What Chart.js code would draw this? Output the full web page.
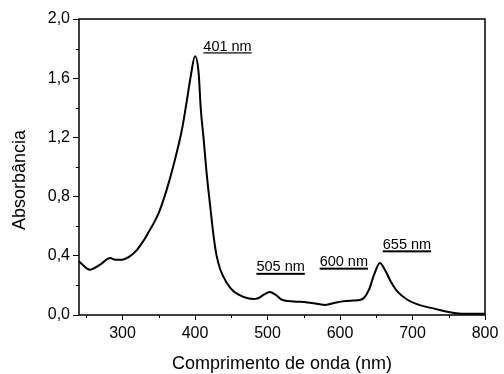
<!DOCTYPE html>
<html>
<head>
<meta charset="utf-8">
<script src="https://cdn.jsdelivr.net/npm/chart.js@4"></script>
<style>
  html, body { margin: 0; padding: 0; background: #fff; }
  #wrap { width: 504px; height: 374px; }
</style>
</head>
<body>
<div id="wrap"><canvas id="chart" width="504" height="374"></canvas></div>
<script>
// UV-Vis spectrum
const wavelength = [240, 255, 269, 283, 290, 299, 310, 320, 327, 334, 350, 361, 370, 382, 389, 394, 400,
    405, 408, 412, 416, 421, 426, 430, 435, 444, 453, 467, 481, 488, 495, 503, 511, 520, 536, 555, 568, 580,
    592, 603, 615, 624, 633, 640, 647, 655, 663, 670, 679, 693, 711, 730, 748, 767, 800];
const absorbance = [0.362, 0.306, 0.34, 0.385, 0.374, 0.374, 0.396, 0.44, 0.487, 0.543, 0.69, 0.847, 1.005,
    1.253, 1.456, 1.61, 1.748, 1.636, 1.39, 1.185, 0.96, 0.734, 0.52, 0.396, 0.306, 0.216, 0.16, 0.122, 0.108,
    0.115, 0.137, 0.155, 0.137, 0.103, 0.092, 0.085, 0.076, 0.068, 0.081, 0.092, 0.097, 0.099, 0.115, 0.171,
    0.272, 0.352, 0.295, 0.227, 0.16, 0.103, 0.065, 0.043, 0.022, 0.009, 0.008];

// axis ticks
const xTicks = [300, 400, 500, 600, 700, 800];
const xMinorTicks = [250, 350, 450, 550, 650, 750];
const yTicks = [0, 0.4, 0.8, 1.2, 1.6, 2.0];
const yMinorTicks = [0.2, 0.6, 1.0, 1.4, 1.8];

// peak labels (text anchored at left/baseline, in data units)
const peakLabels = ['401 nm', '505 nm', '600 nm', '655 nm'];
const peakLabelX = [411.5, 484.7, 571.9, 659];
const peakLabelY = [1.785, 0.295, 0.33, 0.447];

const FONT = '"Liberation Sans", Arial, sans-serif';

const frame = {
    id: 'frame',
    afterDraw(chart) {
        const ctx = chart.ctx;
        const a = chart.chartArea;
        const xs = chart.scales.x, ys = chart.scales.y;
        ctx.save();
        ctx.strokeStyle = '#000';
        ctx.lineWidth = 1.5;
        ctx.strokeRect(a.left, a.top, a.right - a.left, a.bottom - a.top);

        // minor ticks
        ctx.lineWidth = 1;
        ctx.beginPath();
        xMinorTicks.forEach(v => {
            const px = Math.round(xs.getPixelForValue(v)) + 0.5;
            ctx.moveTo(px, a.bottom);
            ctx.lineTo(px, a.bottom + 3);
        });
        yMinorTicks.forEach(v => {
            const py = Math.round(ys.getPixelForValue(v)) + 0.5;
            ctx.moveTo(a.left, py);
            ctx.lineTo(a.left - 3, py);
        });
        ctx.stroke();

        // peak labels
        ctx.fillStyle = '#000';
        ctx.font = '14.5px ' + FONT;
        ctx.textBaseline = 'alphabetic';
        ctx.textAlign = 'left';
        peakLabels.forEach((t, i) => {
            const px = xs.getPixelForValue(peakLabelX[i]);
            const py = ys.getPixelForValue(peakLabelY[i]);
            ctx.fillText(t, px, py);
            const w = ctx.measureText(t).width;
            ctx.fillRect(px, py + 1.5, w, i === 0 ? 1.2 : 2);
        });

        // axis titles
        ctx.font = '18px ' + FONT;
        ctx.textAlign = 'center';
        ctx.textBaseline = 'middle';
        ctx.fillText('Comprimento de onda (nm)', (a.left + a.right) / 2, 364);
        ctx.translate(20, 180);
        ctx.rotate(-Math.PI / 2);
        ctx.fillText('Absorbância', 0, 0);
        ctx.restore();
    }
};

new Chart(document.getElementById('chart'), {
    type: 'line',
    data: {
        datasets: [{
            data: wavelength.map((w, i) => ({ x: w, y: absorbance[i] })),
            borderColor: '#000',
            borderWidth: 2,
            pointRadius: 0,
            cubicInterpolationMode: 'monotone',
            fill: false
        }]
    },
    options: {
        responsive: false,
        animation: false,
        layout: { padding: { top: 19, right: 19, left: 0, bottom: 0 } },
        plugins: { legend: { display: false }, tooltip: { enabled: false } },
        scales: {
            x: {
                type: 'linear',
                min: 240,
                max: 800,
                afterBuildTicks: s => { s.ticks = xTicks.map(v => ({ value: v })); },
                afterFit: s => { s.height = 59; },
                grid: { drawOnChartArea: false, tickLength: 5, color: '#000', lineWidth: 1 },
                border: { display: false },
                ticks: {
                    color: '#000',
                    padding: 4,
                    maxRotation: 0,
                    autoSkip: false,
                    font: { family: FONT, size: 16 }
                }
            },
            y: {
                min: 0,
                max: 2,
                afterBuildTicks: s => { s.ticks = yTicks.map(v => ({ value: v })); },
                afterFit: s => { s.width = 79; },
                grid: { drawOnChartArea: false, tickLength: 6, color: '#000', lineWidth: 1 },
                border: { display: false },
                ticks: {
                    color: '#000',
                    padding: 3,
                    font: { family: FONT, size: 16 },
                    callback: v => v.toFixed(1).replace('.', ',')
                }
            }
        }
    },
    plugins: [frame]
});
</script>
</body>
</html>
